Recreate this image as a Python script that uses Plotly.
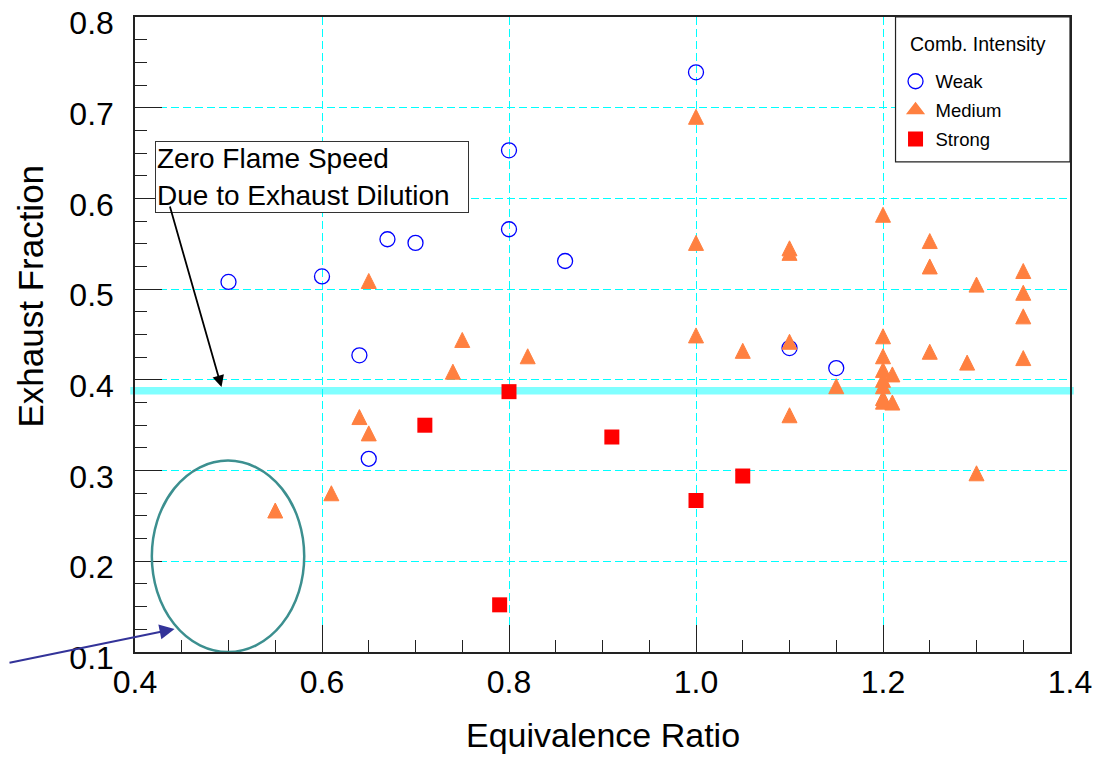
import plotly.graph_objects as go

# ---- data ----
weak_x = [0.50, 0.60, 0.64, 0.65, 0.67, 0.70, 0.80, 0.80, 0.86, 1.00, 1.10, 1.15]
weak_y = [0.508, 0.514, 0.427, 0.313, 0.555, 0.551, 0.653, 0.566, 0.531, 0.739, 0.435, 0.413]

medium_x = [0.55, 0.61, 0.64, 0.65, 0.65, 0.74, 0.75, 0.82,
            1.00, 1.00, 1.00, 1.05, 1.10, 1.10, 1.10, 1.10, 1.15,
            1.20, 1.20, 1.20, 1.20, 1.20, 1.20, 1.20, 1.20, 1.21, 1.21,
            1.25, 1.25, 1.25, 1.29, 1.30, 1.30, 1.35, 1.35, 1.35, 1.35]
medium_y = [0.256, 0.275, 0.359, 0.341, 0.509, 0.409, 0.444, 0.426,
            0.690, 0.551, 0.449, 0.432, 0.545, 0.540, 0.442, 0.361, 0.393,
            0.582, 0.448, 0.426, 0.411, 0.400, 0.393, 0.380, 0.376, 0.406, 0.375,
            0.553, 0.525, 0.431, 0.419, 0.505, 0.297, 0.520, 0.496, 0.470, 0.424]

strong_x = [0.71, 0.79, 0.80, 0.91, 1.00, 1.05]
strong_y = [0.350, 0.152, 0.387, 0.337, 0.267, 0.294]

zero_flame_threshold = 0.388
x_ticks = [0.4, 0.6, 0.8, 1.0, 1.2, 1.4]
y_ticks = [0.1, 0.2, 0.3, 0.4, 0.5, 0.6, 0.7, 0.8]
x_range = [0.4, 1.4]
y_range = [0.1, 0.8]

FONT = "Arial, Liberation Sans, sans-serif"
ORANGE = "#FF8040"

fig = go.Figure()
fig.add_trace(go.Scatter(
    x=weak_x, y=weak_y, mode="markers", name="Weak", legendgroup="w",
    marker=dict(symbol="circle-open", size=15, color="#0000FF",
                line=dict(width=1.3, color="#0000FF"))))
# medium: triangle drawn centred on the point (arrow shape flipped + standoff)
fig.add_trace(go.Scatter(
    x=medium_x, y=medium_y, mode="markers", name="Medium", legendgroup="m",
    showlegend=False,
    marker=dict(symbol="arrow-down", angle=180, size=15, standoff=7.5, color=ORANGE,
                line=dict(width=1, color=ORANGE))))
# legend entry for medium (no points)
fig.add_trace(go.Scatter(
    x=[None], y=[None], mode="markers", name="Medium", legendgroup="m",
    marker=dict(symbol="triangle-up", size=14, color=ORANGE,
                line=dict(width=1.5, color=ORANGE))))
fig.add_trace(go.Scatter(
    x=strong_x, y=strong_y, mode="markers", name="Strong", legendgroup="s",
    marker=dict(symbol="square", size=15, color="#FF0000",
                line=dict(width=0))))
# empty trace on overlay axes that carry the minor ticks
fig.add_trace(go.Scatter(x=[], y=[], xaxis="x2", yaxis="y2", showlegend=False,
                         hoverinfo="skip"))

# thick threshold line
fig.add_shape(type="line", xref="paper", yref="y",
              x0=-0.005, x1=1.004, y0=zero_flame_threshold, y1=zero_flame_threshold,
              line=dict(color="#80FFFF", width=7.5), layer="below")

# ellipse
fig.add_shape(type="circle", xref="x", yref="y",
              x0=0.418, x1=0.581, y0=0.1, y1=0.311,
              line=dict(color="#3C8F8F", width=2.5), layer="above")

# legend box
fig.add_shape(type="rect", xref="paper", yref="paper",
              x0=0.8134, x1=1.0, y0=0.7717, y1=1.0,
              line=dict(color="#222222", width=1.2), fillcolor="white", layer="above")

# legend title
fig.add_annotation(x=0.8263, y=0.9575, xref="paper", yref="paper", xanchor="left", yanchor="middle",
                   text="Comb. Intensity", showarrow=False,
                   font=dict(family=FONT, size=19.5, color="black"))

# text box
fig.add_annotation(x=0.4215, y=0.6634, xref="x", yref="y", xanchor="left", yanchor="top",
                   text="Zero Flame Speed<br>Due to Exhaust Dilution", align="left",
                   width=310, height=68, valign="middle",
                   showarrow=False, font=dict(family=FONT, size=28, color="black"),
                   bordercolor="#333333", borderwidth=1, borderpad=1, bgcolor="white")

# black arrow from text box to threshold line
fig.add_annotation(x=0.4925, y=0.392, xref="x", yref="y", ax=-52, ay=-182,
                   axref="pixel", ayref="pixel", text="", showarrow=True,
                   arrowhead=2, arrowsize=1.3, arrowwidth=1.8, arrowcolor="black")

# blue arrow pointing at ellipse
fig.add_annotation(x=0.4423, y=0.1254, xref="x", yref="y", ax=-182, ay=34,
                   axref="pixel", ayref="pixel", text="", showarrow=True,
                   arrowhead=2, arrowsize=1.5, arrowwidth=2, arrowcolor="#333399")

# axis titles
fig.add_annotation(x=0.5, y=-0.130, xref="paper", yref="paper", xanchor="center", yanchor="middle",
                   text="Equivalence Ratio", showarrow=False,
                   font=dict(family=FONT, size=34, color="black"))
fig.add_annotation(x=-0.1128, y=0.5606, xref="paper", yref="paper", xanchor="center", yanchor="middle",
                   text="Exhaust Fraction", textangle=-90, showarrow=False,
                   font=dict(family=FONT, size=35, color="black"))

axis_common = dict(
    showline=True, mirror=True, linecolor="#222222", linewidth=1.5,
    ticks="inside", tickcolor="#222222", tickwidth=1, ticklen=27,
    showgrid=True, gridcolor="#00FFFF", gridwidth=1, griddash="8px,4px",
    zeroline=False, tickfont=dict(family=FONT, size=32, color="black"),
    ticklabeloverflow="allow", automargin=False,
)
minor_axis = dict(ticks="inside", ticklen=12, tickcolor="#222222", tickwidth=1,
                  showticklabels=False, showgrid=False, showline=False, zeroline=False,
                  automargin=False, tickmode="linear")

fig.update_layout(
    template="none",
    width=1095, height=751,
    margin=dict(l=127, r=33, t=9, b=107, autoexpand=False),
    plot_bgcolor="white", paper_bgcolor="white",
    font=dict(family=FONT, color="black"),
    showlegend=True,
    xaxis=dict(range=x_range, tickvals=x_ticks, ticktext=[f"{v:.1f}" for v in x_ticks],
               ticklabelstandoff=1, **axis_common),
    yaxis=dict(range=y_range, tickvals=y_ticks, ticktext=[f"{v:.1f}" for v in y_ticks],
               ticklabelstandoff=13, ticklabelshift=6, **axis_common),
    xaxis2=dict(overlaying="x", anchor="y2", side="bottom", range=x_range,
                tick0=0.4, dtick=0.05, **minor_axis),
    yaxis2=dict(overlaying="y", anchor="x2", side="left", range=y_range,
                tick0=0.1, dtick=0.025, **minor_axis),
    legend=dict(x=0.8134, y=0.928, xanchor="left", yanchor="top",
                bgcolor="rgba(0,0,0,0)", borderwidth=0,
                font=dict(family=FONT, size=18.5, color="black"),
                traceorder="grouped", tracegroupgap=1.8),
)

fig.write_html("out.html")
